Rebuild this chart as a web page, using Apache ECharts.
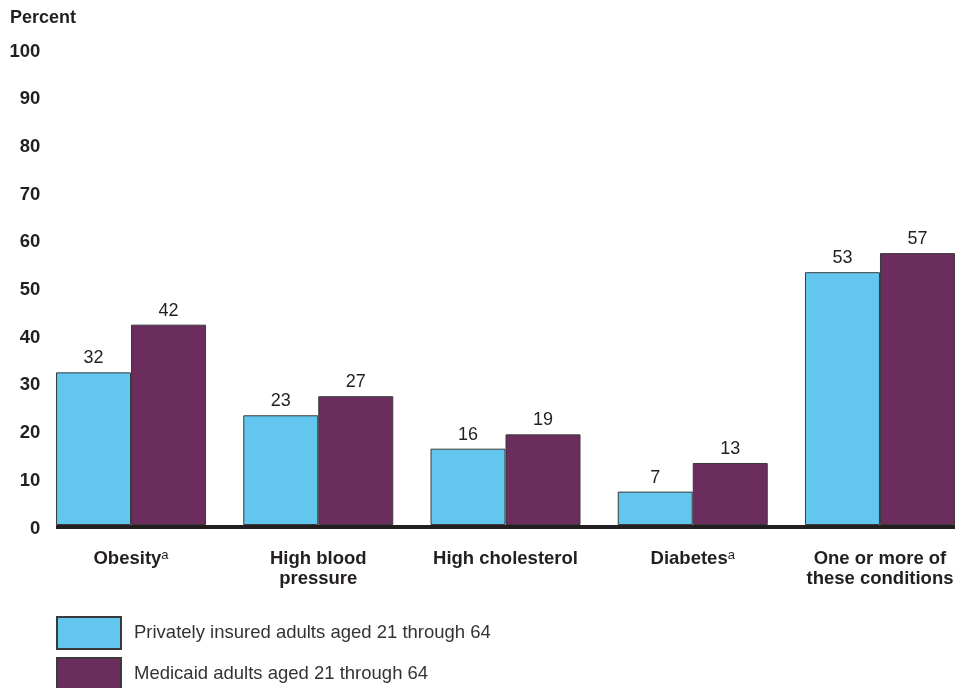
<!DOCTYPE html>
<html>
<head>
<meta charset="utf-8">
<script src="https://cdn.jsdelivr.net/npm/echarts@6/dist/echarts.min.js"></script>
<style>html,body{margin:0;padding:0;background:#fff}#c{width:967px;height:688px}</style>
</head>
<body>
<div id="c"></div>
<script>
var categories = ['Obesity', 'High blood\npressure', 'High cholesterol', 'Diabetes', 'One or more of\nthese conditions'];
var footnotes = ['a', '', '', 'a', ''];
var privateValues = [32, 23, 16, 7, 53];
var medicaidValues = [42, 27, 19, 13, 57];
var seriesNames = ['Privately insured adults aged 21 through 64', 'Medicaid adults aged 21 through 64'];
var yTicks = [0, 10, 20, 30, 40, 50, 60, 70, 80, 90, 100];

var BAR_W = 75;
var chart = echarts.init(document.getElementById('c'), null, {renderer: 'canvas'});
var font = 'Arial, "Liberation Sans", Helvetica, sans-serif';
var ink = '#231F20';

function legendBlock(name, top) {
  return {
    data: [name], orient: 'vertical', left: 51, top: top,
    itemWidth: 64, itemHeight: 32, selectedMode: false, icon: 'rect',
    textStyle: {fontFamily: font, fontSize: 18.5, color: '#333', padding: [0, 0, 0, 8]}
  };
}

chart.setOption({
  animation: false,
  textStyle: {fontFamily: font},
  title: {
    text: 'Percent', left: 5, top: 4,
    textStyle: {fontFamily: font, fontSize: 18, fontWeight: 'bold', color: ink}
  },
  grid: {left: 37.4, right: -6.6, top: 48, bottom: 163, containLabel: false, outerBoundsMode: 'none'},
  legend: [legendBlock(seriesNames[0], 611), legendBlock(seriesNames[1], 652)],
  xAxis: {
    type: 'category', data: categories,
    axisLine: {show: false}, axisTick: {show: false},
    axisLabel: {
      interval: 0, margin: 24,
      formatter: function (v, i) { return footnotes[i] ? v + '{sup|' + footnotes[i] + '}' : v; },
      fontFamily: font, fontSize: 18.5, fontWeight: 'bold', color: ink, lineHeight: 20,
      rich: {sup: {fontSize: 13, fontWeight: 'normal', verticalAlign: 'top', color: ink, padding: [0, 0, 8, 0], fontFamily: font}}
    }
  },
  yAxis: {
    type: 'value', min: 0, max: 100, interval: 10,
    splitLine: {show: false}, axisLine: {show: false}, axisTick: {show: false},
    axisLabel: {
      margin: -3, fontFamily: font, fontSize: 18.5, fontWeight: 'bold', color: ink,
      verticalAlign: 'top', lineHeight: 7,
      formatter: function (v) { return yTicks.indexOf(v) >= 0 ? String(v) : ''; }
    }
  },
  series: [
    {
      name: seriesNames[0], type: 'bar', data: privateValues, barWidth: BAR_W, barGap: '0%',
      itemStyle: {color: '#62C6EE', borderColor: '#3a3a3a', borderWidth: 1},
      label: {show: true, position: 'top', distance: 5, fontFamily: font, fontSize: 18, color: ink}
    },
    {
      name: seriesNames[1], type: 'bar', data: medicaidValues, barWidth: BAR_W, barGap: '0%',
      itemStyle: {color: '#6B2C5E', borderColor: '#3a3a3a', borderWidth: 1},
      label: {show: true, position: 'top', distance: 5, fontFamily: font, fontSize: 18, color: ink}
    },
    {
      name: 'baseline', type: 'custom', silent: true, z: 5,
      data: [[0, 0]],
      renderItem: function (params, api) {
        var p0 = api.coord([0, 0]);
        var p1 = api.coord([categories.length - 1, 0]);
        return {
          type: 'line',
          shape: {x1: p0[0] - BAR_W, y1: p0[1] + 2, x2: p1[0] + BAR_W, y2: p1[1] + 2},
          style: {stroke: ink, lineWidth: 4}
        };
      }
    }
  ]
});
</script>
</body>
</html>
